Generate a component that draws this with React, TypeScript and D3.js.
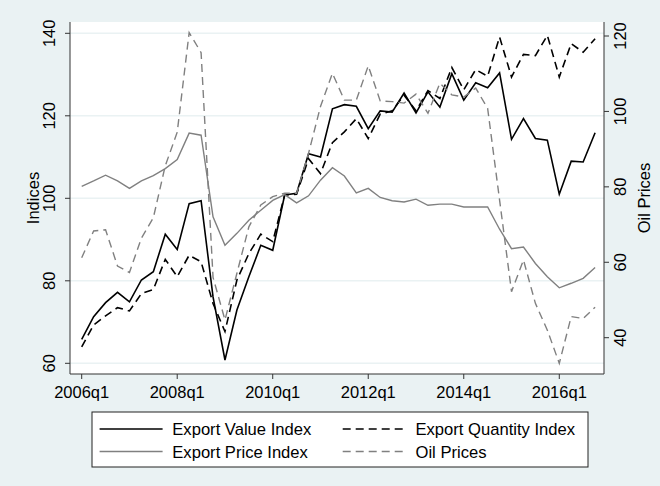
import React from 'react';
import * as d3 from 'd3';

// quarterly data, 2006q1 .. 2016q4
const quarters = d3.range(44).map((i) => `${2006 + Math.floor(i / 4)}q${(i % 4) + 1}`);

const exportValue = [65.8, 71.3, 74.7, 77.2, 74.9, 80.2, 82.2, 91.3, 87.6, 98.7, 99.4,
  76.1, 60.8, 72.9, 81.0, 88.6, 87.4, 100.8, 101.2, 110.8, 110.0,
  121.7, 122.7, 122.3, 116.9, 121.2, 120.9, 125.5, 120.7, 125.8, 122.1,
  130.2, 123.8, 128.0, 126.8, 130.4, 114.3, 119.3, 114.5, 114.1, 101.0, 109.0, 108.8, 115.9];

const exportQuantity = [64.0, 69.3, 71.5, 73.5, 72.7, 76.9, 77.9, 85.2, 81.0, 86.2, 84.6,
  74.5, 67.7, 80.2, 86.6, 91.3, 89.5, 100.8, 101.0, 109.6, 106.0,
  113.5, 116.1, 119.3, 114.5, 120.4, 121.2, 125.0, 121.2, 126.1, 124.2,
  131.7, 126.3, 131.2, 129.6, 139.1, 129.4, 134.9, 134.6, 139.5, 129.4, 137.5, 135.4, 138.7];

const exportPrice = [102.9, 104.2, 105.6, 104.2, 102.4, 104.2, 105.5, 107.2, 109.4, 115.8, 115.3,
  95.5, 88.6, 91.5, 94.7, 97.1, 99.5, 100.9, 98.9, 100.6, 104.4,
  107.4, 105.4, 101.3, 102.4, 100.2, 99.4, 99.1, 99.8, 98.3, 98.6,
  98.6, 97.9, 97.9, 97.9, 92.5, 87.8, 88.2, 84.2, 81.0, 78.3, 79.4, 80.6, 83.2];

const oilPrices = [61.2, 68.3, 68.6, 59.0, 57.3, 66.4, 71.8, 85.6, 94.5, 120.9, 115.6,
  56.0, 44.7, 57.1, 69.4, 75.2, 77.4, 78.3, 78.3, 88.9, 101.3,
  110.1, 103.0, 103.0, 112.1, 102.8, 102.6, 102.2, 104.6, 99.5, 107.5,
  104.4, 103.8, 106.2, 100.8, 76.5, 52.2, 60.6, 49.1, 42.0, 33.2, 45.6, 45.1, 48.1];

const leftTicks = [60, 80, 100, 120, 140];
const rightTicks = [40, 60, 80, 100, 120];
const xTickIdx = [0, 8, 16, 24, 32, 40];

const W = 660;
const H = 486;
const plot = { left: 70, right: 604, top: 22, bottom: 374 };
const FONT = '"Liberation Sans", Arial, Helvetica, sans-serif';
const BG = '#EAF2F3';
const GREY = '#808080';

const App = () => {
  const x = d3.scaleLinear().domain([0, 43]).range([81.7, 595.1]);
  const yL = d3.scaleLinear().domain([60, 140]).range([363.3, 33.3]);
  const yR = d3.scaleLinear().domain([40, 120]).range([337.7, 36]);

  const lineL = d3.line<number>().x((_, i) => x(i)).y((d) => yL(d));
  const lineR = d3.line<number>().x((_, i) => x(i)).y((d) => yR(d));

  const series = [
    { name: 'Export Value Index', d: lineL(exportValue), color: '#000', width: 1.6, dash: null },
    { name: 'Export Quantity Index', d: lineL(exportQuantity), color: '#000', width: 1.6, dash: '8,5' },
    { name: 'Export Price Index', d: lineL(exportPrice), color: GREY, width: 1.4, dash: null },
    { name: 'Oil Prices', d: lineR(oilPrices), color: GREY, width: 1.4, dash: '8,5' },
  ];

  const legendCols = [
    { sx: 99.6, tx: 172.3 },
    { sx: 342.7, tx: 415.5 },
  ];
  const legendRows = [435, 457.5];

  return (
    <svg width={W} height={H} style={{ position: 'absolute', left: 0, top: 0 }} fontFamily={FONT}>
      <rect x={0} y={0} width={W} height={H} fill={BG} />
      <rect x={plot.left} y={plot.top} width={plot.right - plot.left} height={plot.bottom - plot.top} fill="#fff" />

      {/* gridlines */}
      {leftTicks.map((t) => (
        <line key={t} x1={plot.left} x2={plot.right} y1={yL(t)} y2={yL(t)} stroke={BG} strokeWidth={1.5} />
      ))}

      {/* series */}
      {series.map((s) => (
        <path key={s.name} d={s.d || ''} fill="none" stroke={s.color} strokeWidth={s.width}
          strokeDasharray={s.dash || undefined} strokeLinejoin="miter" />
      ))}

      {/* axes */}
      <line x1={plot.left} x2={plot.left} y1={plot.top} y2={plot.bottom} stroke="#333" strokeWidth={1} />
      <line x1={plot.right} x2={plot.right} y1={plot.top} y2={plot.bottom} stroke="#333" strokeWidth={1} />
      <line x1={plot.left} x2={plot.right} y1={plot.bottom} y2={plot.bottom} stroke="#333" strokeWidth={1} />

      {leftTicks.map((t) => (
        <g key={t}>
          <line x1={plot.left - 5} x2={plot.left} y1={yL(t)} y2={yL(t)} stroke="#333" />
          <text transform={`translate(55,${yL(t)}) rotate(-90)`} textAnchor="middle" fontSize={16.5}>{t}</text>
        </g>
      ))}
      {rightTicks.map((t) => (
        <g key={t}>
          <line x1={plot.right} x2={plot.right + 5} y1={yR(t)} y2={yR(t)} stroke="#333" />
          <text transform={`translate(626,${yR(t)}) rotate(-90)`} textAnchor="middle" fontSize={16.5}>{t}</text>
        </g>
      ))}
      {xTickIdx.map((i) => (
        <g key={i}>
          <line x1={x(i)} x2={x(i)} y1={plot.bottom} y2={plot.bottom + 5} stroke="#333" />
          <text x={x(i)} y={397.5} textAnchor="middle" fontSize={16.5}>{quarters[i]}</text>
        </g>
      ))}

      <text transform={`translate(39,${(plot.top + plot.bottom) / 2}) rotate(-90)`} textAnchor="middle" fontSize={16.5}>Indices</text>
      <text transform={`translate(650,${(plot.top + plot.bottom) / 2}) rotate(-90)`} textAnchor="middle" fontSize={16.5}>Oil Prices</text>

      {/* legend */}
      <rect x={92} y={412} width={496} height={55} fill="#fff" stroke="#222" strokeWidth={1} />
      {series.map((s, i) => {
        const col = legendCols[i % 2];
        const ry = legendRows[Math.floor(i / 2)];
        return (
          <g key={s.name}>
            <line x1={col.sx} x2={col.sx + 63} y1={ry - 6} y2={ry - 6} stroke={s.color} strokeWidth={s.width}
              strokeDasharray={s.dash || undefined} />
            <text x={col.tx} y={ry} fontSize={16.6}>{s.name}</text>
          </g>
        );
      })}
    </svg>
  );
};

export default App;
